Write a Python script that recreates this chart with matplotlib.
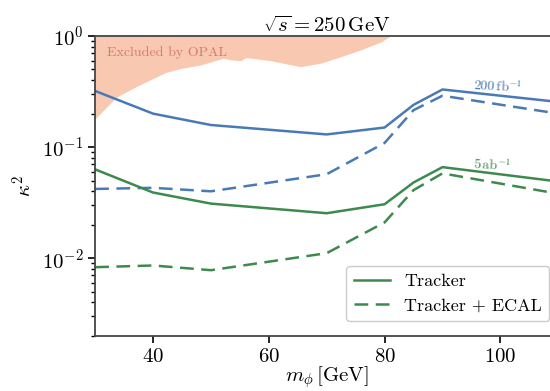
import numpy as np
import matplotlib
matplotlib.use("Agg")
import matplotlib.pyplot as plt

plt.rcParams['font.family'] = 'serif'
plt.rcParams['font.serif'] = ['cmr10']
plt.rcParams['mathtext.fontset'] = 'cm'
plt.rcParams['axes.formatter.use_mathtext'] = True

# masses (GeV)
mass = [30, 40, 50, 70, 80, 85, 90, 110]
# 200 fb^-1
blue_tracker = [0.32, 0.20, 0.158, 0.13, 0.15, 0.24, 0.33, 0.255]
blue_ecal = [0.042, 0.043, 0.040, 0.057, 0.109, 0.215, 0.29, 0.20]
# 5 ab^-1
green_tracker = [0.063, 0.039, 0.031, 0.0254, 0.0306, 0.048, 0.066, 0.049]
green_ecal = [0.0083, 0.0086, 0.0078, 0.0111, 0.021, 0.041, 0.058, 0.038]

# OPAL exclusion boundary
opal_m = [30, 33.6, 37.1, 42.2, 44.8, 48.3, 52.1, 53.4, 55.2, 56.0, 60.3,
          63.8, 65.5, 69.0, 72.4, 75.9, 79.3, 81.0]
opal_k = [0.18, 0.28, 0.35, 0.47, 0.51, 0.55, 0.63, 0.61, 0.60, 0.64, 0.60,
          0.55, 0.53, 0.57, 0.65, 0.75, 0.88, 1.0]

blue = '#4a7ab5'
green = '#3e8a4e'
dash = (5.5, 3)

fig = plt.figure(figsize=(5.5, 3.91), dpi=100)
ax = fig.add_axes([0.173, 0.141, 0.842, 0.767])

ax.fill_between(opal_m, opal_k, 1.0, color='#f9c8b1', lw=0)
ax.text(32, 0.655, 'Excluded by OPAL', color='#d47a6e', fontsize=10)

ax.plot(mass, blue_tracker, color=blue, lw=1.8)
ax.plot(mass, blue_ecal, color=blue, lw=1.8, ls='--', dashes=dash)
ax.plot(mass, green_tracker, color=green, lw=1.8)
ax.plot(mass, green_ecal, color=green, lw=1.8, ls='--', dashes=dash)

ax.text(95.3, 0.31, r'$200\,\mathrm{fb}^{-1}$', color=blue, fontsize=10, rotation=-3)
ax.text(95.3, 0.061, r'$5\,\mathrm{ab}^{-1}$', color=green, fontsize=10, rotation=-3)

ax.plot([], [], color=green, lw=1.8, label='Tracker')
ax.plot([], [], color=green, lw=1.8, ls='--', dashes=dash, label='Tracker + ECAL')
ax.legend(loc='lower right', fontsize=13, frameon=True, edgecolor='#cccccc',
          framealpha=1, borderpad=0.4, handlelength=2.0,
          bbox_to_anchor=(1.0, 0.02))

ax.set_yscale('log')
ax.set_xlim(30, 110)
ax.set_ylim(2e-3, 1)
ax.set_xticks([40, 60, 80, 100])
ax.tick_params(labelsize=15, direction='out')
ax.tick_params(which='major', length=5, width=1.2)
ax.tick_params(which='minor', length=3, width=1)
for s in ax.spines.values():
    s.set_linewidth(1.3)
    s.set_color('#444444')

ax.set_xlabel(r'$m_\phi\,[\mathrm{GeV}]$', fontsize=15, labelpad=-1)
ax.set_ylabel(r'$\kappa^2$', fontsize=15)
ax.set_title(r'$\sqrt{s} = 250\,\mathrm{GeV}$', fontsize=15, pad=3)

fig.savefig('out.png', dpi=100)
